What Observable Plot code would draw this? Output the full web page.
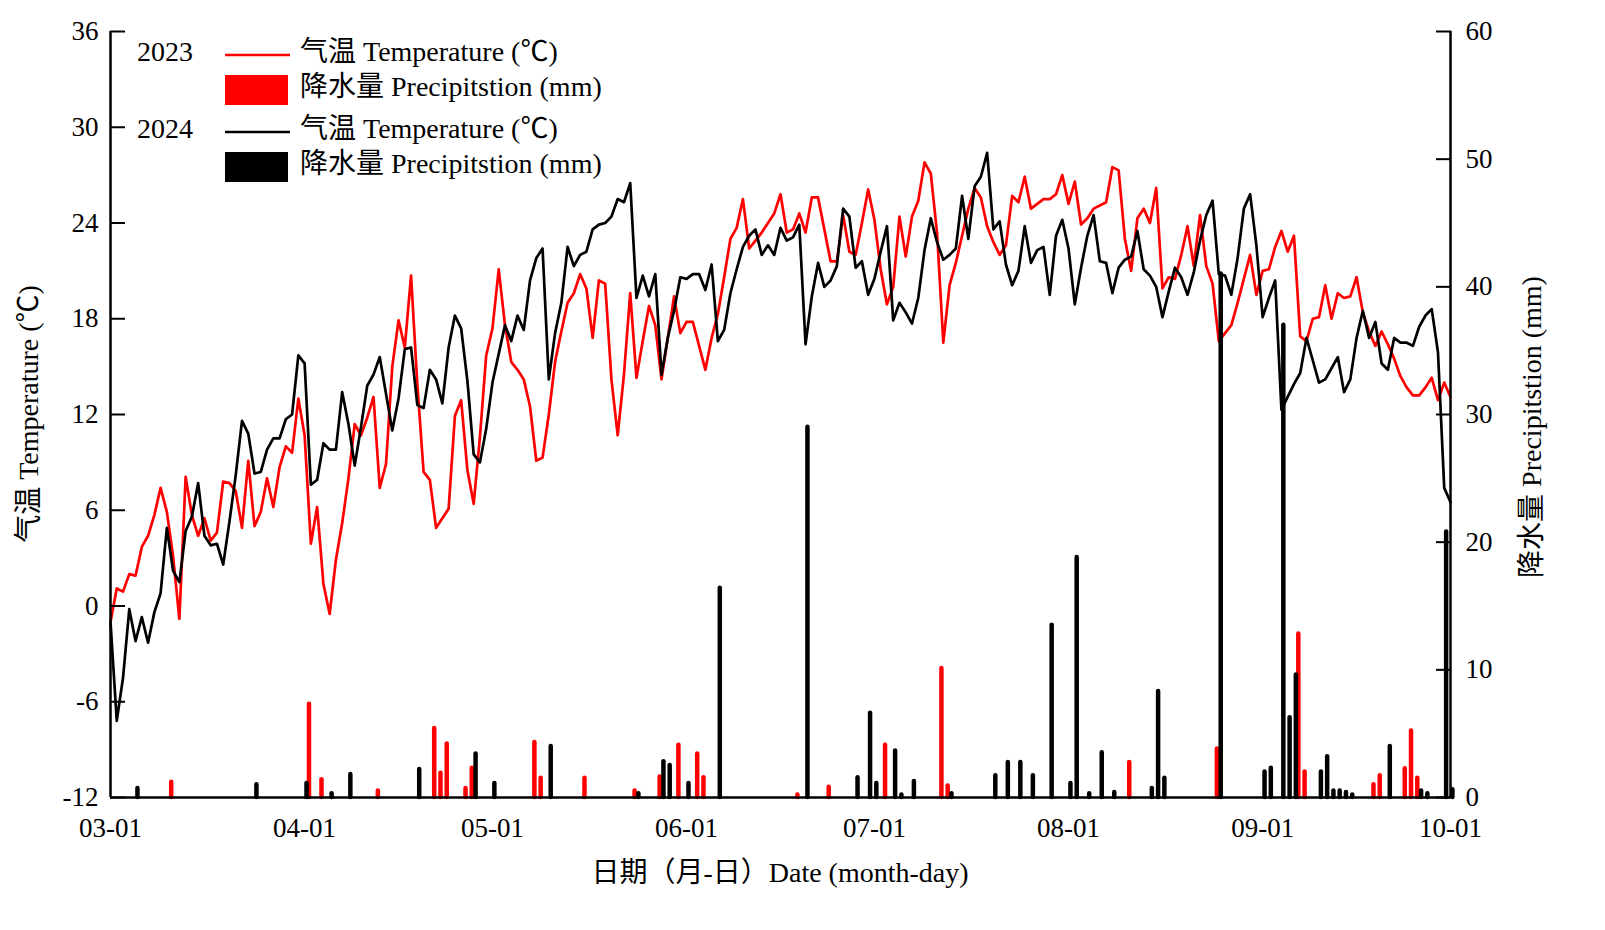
<!DOCTYPE html>
<html>
<head>
<meta charset="utf-8">
<script src="https://cdn.jsdelivr.net/npm/d3@7"></script>
<script src="https://cdn.jsdelivr.net/npm/@observablehq/plot@0.6"></script>
<style>
  html, body { margin: 0; background: #fff; overflow: hidden; }
  #chart { width: 1605px; height: 930px; }
  #chart svg { display: block; }
</style>
</head>
<body>
<div id="chart"></div>
<script>
// Daily mean air temperature (°C), 03-01 .. 10-01
const temp2023 = [
  -1.0, 1.1, 0.9, 2.0, 1.9, 3.7, 4.4, 5.7, 7.4, 5.9,
  3.1, -0.8, 8.1, 5.7, 4.4, 5.5, 4.1, 4.6, 7.8, 7.7,
  7.2, 4.9, 9.1, 5.0, 5.9, 8.0, 6.2, 8.7, 10.0, 9.6,
  13.0, 10.7, 3.9, 6.2, 1.4, -0.5, 2.9, 5.2, 8.0, 11.4,
  10.7, 11.8, 13.1, 7.4, 8.9, 15.0, 17.9, 16.2, 20.7, 13.9,
  8.4, 7.9, 4.9, 5.5, 6.1, 11.9, 12.9, 8.5, 6.4, 10.6,
  15.7, 17.4, 21.1, 17.6, 15.3, 14.8, 14.2, 12.5, 9.1, 9.3,
  12.0, 15.3, 17.2, 19.0, 19.6, 20.8, 19.9, 16.8, 20.4, 20.2,
  14.2, 10.7, 14.5, 19.6, 14.3, 16.6, 18.8, 17.6, 14.2, 16.8,
  19.4, 17.1, 17.8, 17.8, 16.3, 14.8, 16.8, 18.3, 20.6, 23.0,
  23.7, 25.5, 22.4, 22.9, 23.4, 24.0, 24.6, 25.8, 23.4, 23.6,
  24.6, 23.4, 25.6, 25.6, 23.6, 21.6, 21.6, 24.5, 22.2, 22.0,
  24.0, 26.1, 24.2, 21.1, 18.9, 20.0, 24.4, 21.9, 24.4, 25.4,
  27.8, 27.1, 23.4, 16.5, 20.1, 21.5, 23.2, 24.9, 26.2, 25.6,
  23.8, 22.8, 22.0, 22.6, 25.7, 25.3, 26.9, 24.9, 25.2, 25.5,
  25.5, 25.8, 27.0, 25.2, 26.6, 23.9, 24.3, 24.9, 25.1, 25.3,
  27.5, 27.3, 23.0, 21.0, 24.3, 24.9, 24.0, 26.2, 19.9, 20.6,
  20.5, 22.0, 23.8, 21.3, 24.5, 21.3, 20.2, 16.6, 17.1, 17.6,
  19.0, 20.5, 22.0, 19.5, 21.0, 21.1, 22.5, 23.5, 22.2, 23.2,
  16.9, 16.6, 18.0, 18.1, 20.1, 18.0, 19.6, 19.3, 19.4, 20.6,
  18.4, 17.2, 16.3, 17.2, 16.4, 15.5, 14.4, 13.7, 13.2, 13.2,
  13.7, 14.3, 12.9, 14.0, 13.1
];
const temp2024 = [
  -1.0, -7.2, -4.5, -0.2, -2.2, -0.7, -2.3, -0.4, 0.8, 4.9,
  2.2, 1.5, 4.7, 5.6, 7.7, 4.4, 3.8, 3.9, 2.6, 5.3,
  8.2, 11.6, 10.8, 8.3, 8.4, 9.8, 10.5, 10.5, 11.7, 12.0,
  15.7, 15.2, 7.6, 7.9, 10.2, 9.8, 9.8, 13.4, 11.4, 8.8,
  11.2, 13.8, 14.5, 15.6, 13.3, 11.0, 13.0, 16.1, 16.2, 12.6,
  12.4, 14.8, 14.2, 12.7, 16.2, 18.2, 17.4, 14.1, 9.5, 9.0,
  11.1, 14.0, 15.8, 17.6, 16.6, 18.2, 17.3, 20.4, 21.8, 22.4,
  14.2, 17.1, 19.0, 22.5, 21.3, 22.0, 22.2, 23.6, 23.9, 24.0,
  24.4, 25.5, 25.3, 26.5, 19.3, 20.7, 19.4, 20.8, 14.5, 16.8,
  18.5, 20.6, 20.5, 20.8, 20.8, 19.8, 21.4, 16.6, 17.3, 19.6,
  21.1, 22.5, 23.2, 23.6, 22.0, 22.6, 22.0, 23.7, 22.9, 23.1,
  23.9, 16.4, 19.4, 21.5, 20.0, 20.4, 21.3, 24.9, 24.4, 21.2,
  21.6, 19.5, 20.5, 22.2, 23.8, 17.9, 19.0, 18.4, 17.7, 19.3,
  22.3, 24.3, 22.8, 21.7, 22.0, 22.4, 25.7, 23.0, 26.3, 26.9,
  28.4, 23.6, 24.1, 21.4, 20.1, 21.0, 23.8, 21.5, 22.3, 22.5,
  19.5, 23.2, 24.2, 22.4, 18.9, 21.2, 23.2, 24.5, 21.6, 21.5,
  19.6, 21.2, 21.7, 21.9, 23.5, 21.1, 20.7, 20.0, 18.1, 19.7,
  21.2, 20.6, 19.5, 20.9, 22.9, 24.5, 25.4, 20.8, 20.7, 19.5,
  21.8, 24.9, 25.8, 22.6, 18.1, 19.3, 20.4, 12.3, 13.1, 13.9,
  14.6, 16.8, 15.4, 14.0, 14.2, 14.9, 15.6, 13.4, 14.2, 16.8,
  18.5, 16.8, 17.8, 15.2, 14.8, 16.8, 16.5, 16.5, 16.3, 17.5,
  18.2, 18.6, 15.9, 7.4, 6.5
];

// Precipitation (mm), rain days only
const rain2023Dates = ["03-11","04-02","04-04","04-13","04-22","04-23","04-24","04-27","04-28",
  "05-08","05-09","05-16","05-24","05-28","05-31","06-03","06-04","06-19","06-24",
  "07-03","07-12","07-13","08-11","08-25","09-07","09-08","09-19","09-20","09-24","09-25","09-26"];
const rain2023 = [1.2, 7.3, 1.4, 0.5, 5.4, 1.9, 4.2, 0.7, 2.3,
  4.3, 1.5, 1.5, 0.5, 1.6, 4.1, 3.4, 1.55, 0.2, 0.8,
  4.1, 10.1, 0.9, 2.75, 3.8, 12.8, 2.0, 1.0, 1.7, 2.25, 5.2, 1.5];

const rain2024Dates = ["03-05","03-24","04-01","04-05","04-08","04-19","04-28","05-01","05-10",
  "05-24","05-28","05-29","06-01","06-06","06-20","06-28","06-30","07-01","07-04","07-05",
  "07-07","07-13","07-20","07-22","07-24","07-26","07-29","08-01","08-02","08-04","08-06",
  "08-08","08-14","08-15","08-16","08-25","09-01","09-02","09-04","09-05","09-06","09-10",
  "09-11","09-12","09-13","09-14","09-15","09-21","09-26","09-27","09-30","10-01"];
const rain2024 = [0.7, 1.0, 1.1, 0.3, 1.8, 2.2, 3.4, 1.1, 4.0,
  0.3, 2.8, 2.5, 1.1, 16.4, 29.0, 1.55, 6.6, 1.1, 3.65, 0.2,
  1.25, 0.3, 1.7, 2.75, 2.75, 1.7, 13.5, 1.1, 18.8, 0.3, 3.5,
  0.4, 0.7, 8.3, 1.5, 41.0, 2.0, 2.3, 37.0, 6.25, 9.6, 2.0,
  3.2, 0.5, 0.5, 0.4, 0.2, 4.0, 0.5, 0.3, 20.8, 0.6];

const monthTicks = ["03-01","04-01","05-01","06-01","07-01","08-01","09-01","10-01"];
const tempTicks = [-12, -6, 0, 6, 12, 18, 24, 30, 36];
const rainTicks = [0, 10, 20, 30, 40, 50, 60];

const FONT = '"Liberation Serif", "Times New Roman", "Noto Sans CJK SC", serif';
const T_MIN = -12, T_MAX = 36, P_MAX = 60;
const p2t = mm => T_MIN + mm * (T_MAX - T_MIN) / P_MAX;
const t2p = t => (t - T_MIN) * P_MAX / (T_MAX - T_MIN);

const toDate = s => new Date(Date.UTC(2023, +s.slice(0, 2) - 1, +s.slice(3)));
const start = toDate(monthTicks[0]);
const end = toDate(monthTicks[monthTicks.length - 1]);
const series = arr => arr.map((v, i) => ({date: d3.utcDay.offset(start, i), v}));
const rains = (dates, vals) => dates.map((s, i) => ({date: toDate(s), mm: vals[i]}));

const t23 = series(temp2023), t24 = series(temp2024);
const r23 = rains(rain2023Dates, rain2023), r24 = rains(rain2024Dates, rain2024);

const plot = Plot.plot({
  width: 1605,
  height: 930,
  marginLeft: 110,
  marginRight: 155,
  marginTop: 31,
  marginBottom: 133,
  style: {fontFamily: FONT, fontSize: "27px", color: "#000", background: "#fff", overflow: "visible"},
  x: {type: "utc", domain: [start, end]},
  y: {domain: [T_MIN, T_MAX]},
  marks: [
    Plot.lineY(t23, {x: "date", y: "v", stroke: "#ff0000", strokeWidth: 2.7}),
    Plot.lineY(t24, {x: "date", y: "v", stroke: "#000000", strokeWidth: 2.7}),
    Plot.ruleX(r23, {x: "date", y1: () => T_MIN, y2: d => p2t(d.mm), stroke: "#ff0000",
      strokeWidth: 4.5, dx: -1.9, strokeLinecap: "round"}),
    Plot.ruleX(r24, {x: "date", y1: () => T_MIN, y2: d => p2t(d.mm), stroke: "#000000",
      strokeWidth: 4.5, dx: 1.9, strokeLinecap: "round"}),
    Plot.axisX(monthTicks.map(toDate), {tickSize: 0, tickPadding: 20,
      tickFormat: d3.utcFormat("%m-%d"), label: null}),
    Plot.axisY(tempTicks, {anchor: "left", tickSize: -15, tickPadding: 27, strokeWidth: 2,
      tickFormat: t => String(t), label: null}),
    Plot.axisY(rainTicks.map(p2t), {anchor: "right", tickSize: -15, tickPadding: 30, strokeWidth: 2,
      tickFormat: t => String(Math.round(t2p(t))), label: null}),
    Plot.ruleY([T_MIN], {strokeWidth: 2.5}),
    Plot.ruleX([start, end], {strokeWidth: 2.5})
  ]
});

document.getElementById("chart").append(plot);

// titles and legend
const svg = d3.select(plot);
const txt = (x, y, s, opts = {}) => svg.append("text")
  .attr("x", x).attr("y", y).attr("dominant-baseline", "middle")
  .attr("text-anchor", opts.anchor || "start")
  .attr("transform", opts.rotate ? `rotate(-90 ${x} ${y})` : null)
  .attr("font-family", FONT).attr("font-size", opts.size || 28).attr("fill", "#000").text(s);

txt(32, 414, "气温 Temperature (℃)", {anchor: "middle", rotate: true});
txt(1535, 427, "降水量 Precipitstion (mm)", {anchor: "middle", rotate: true});
txt(780, 876, "日期（月-日）Date (month-day)", {anchor: "middle"});

const legend = [
  {year: "2023", color: "#ff0000", y: 55},
  {year: "2024", color: "#000000", y: 132}
];
legend.forEach(l => {
  txt(137, l.y, l.year);
  svg.append("line").attr("x1", 225).attr("x2", 290).attr("y1", l.y).attr("y2", l.y)
    .attr("stroke", l.color).attr("stroke-width", 2.5);
  txt(300, l.y, "气温 Temperature (℃)");
  svg.append("rect").attr("x", 225).attr("y", l.y + 20).attr("width", 63).attr("height", 30)
    .attr("fill", l.color);
  txt(300, l.y + 35, "降水量 Precipitstion (mm)");
});
</script>
</body>
</html>
